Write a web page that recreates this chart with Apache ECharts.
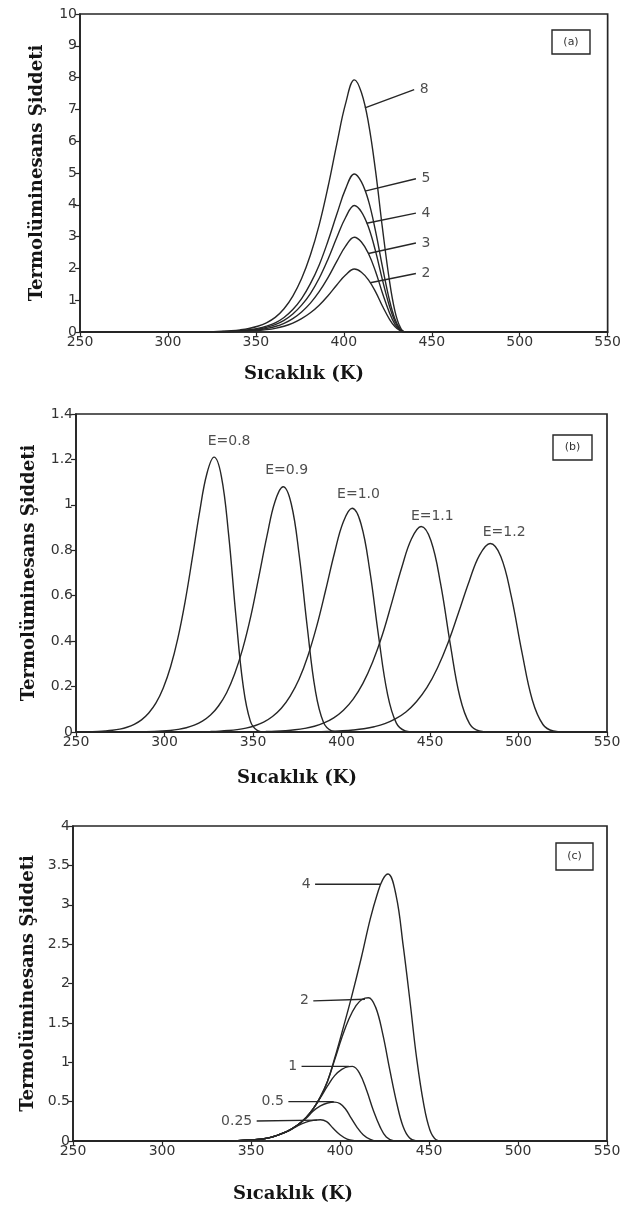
<!DOCTYPE html>
<html>
<head>
<meta charset="utf-8">
<script src="https://cdn.jsdelivr.net/npm/echarts@6/dist/echarts.min.js"></script>
<style>
  html, body { margin: 0; padding: 0; background: #fff; }
  #chart { width: 624px; height: 1208px; }
</style>
</head>
<body>
<div id="chart"></div>
<script>
// ---------- Panel (a): glow curves for several initial trap populations ----------
const tempA = [250, 316, 321, 326, 331, 336, 341, 346, 351, 356, 361, 366, 371, 376, 381, 386, 391, 396, 401, 406, 410, 414, 418, 422, 426, 429, 432, 435, 550];
const curveA8 = [0, 0.005, 0.008, 0.013, 0.024, 0.04, 0.067, 0.11, 0.18, 0.29, 0.46, 0.73, 1.13, 1.68, 2.42, 3.37, 4.56, 5.91, 7.18, 7.93, 7.53, 6.58, 5.08, 3.25, 1.59, 0.67, 0.16, 0, 0];
const curveA5 = [0, 0.003, 0.005, 0.008, 0.015, 0.025, 0.042, 0.07, 0.114, 0.184, 0.288, 0.457, 0.706, 1.05, 1.52, 2.11, 2.86, 3.70, 4.50, 4.97, 4.72, 4.13, 3.18, 2.04, 0.99, 0.42, 0.10, 0, 0];
const curveA4 = [0, 0.002, 0.004, 0.007, 0.012, 0.02, 0.034, 0.056, 0.092, 0.147, 0.231, 0.366, 0.565, 0.844, 1.21, 1.69, 2.29, 2.97, 3.60, 3.98, 3.78, 3.30, 2.55, 1.63, 0.80, 0.34, 0.08, 0, 0];
const curveA3 = [0, 0.002, 0.003, 0.005, 0.009, 0.015, 0.025, 0.042, 0.069, 0.11, 0.173, 0.274, 0.423, 0.632, 0.909, 1.27, 1.71, 2.22, 2.70, 2.98, 2.83, 2.47, 1.91, 1.22, 0.60, 0.25, 0.06, 0, 0];
const curveA2 = [0, 0.001, 0.002, 0.003, 0.006, 0.01, 0.017, 0.028, 0.046, 0.073, 0.115, 0.182, 0.281, 0.42, 0.604, 0.842, 1.14, 1.48, 1.79, 1.98, 1.88, 1.64, 1.27, 0.81, 0.40, 0.17, 0.04, 0, 0];
const labelsA = ['8', '5', '4', '3', '2'];
// leader lines: [point on curve, end near the number]
const leadersA = [
  [[412, 7.05], [440, 7.62]],
  [[412, 4.43], [441, 4.82]],
  [[413, 3.42], [441, 3.74]],
  [[414, 2.47], [441, 2.80]],
  [[415, 1.55], [441, 1.84]]
];

// ---------- Panel (b): glow curves for several activation energies ----------
const tempB08 = [250, 254.2, 258.3, 262.4, 266.5, 270.6, 274.7, 278.8, 282.9, 287.0, 291.1, 295.2, 299.3, 303.4, 307.5, 311.6, 315.7, 319.8, 323.9, 328, 332.1, 336.2, 340.3, 344.4, 348.5, 352.6, 356.7, 550];
const curveB08 = [0.0005, 0.0008, 0.0016, 0.0027, 0.0046, 0.0077, 0.0128, 0.0209, 0.0338, 0.0535, 0.0836, 0.128, 0.194, 0.286, 0.411, 0.572, 0.765, 0.967, 1.136, 1.21, 1.127, 0.871, 0.514, 0.206, 0.048, 0.006, 0, 0];
const tempB09 = [250, 280.4, 284.9, 289.5, 294.0, 298.6, 303.2, 307.7, 312.3, 316.8, 321.4, 326.0, 330.5, 335.1, 339.6, 344.2, 348.8, 353.3, 357.9, 362.4, 367, 371.6, 376.1, 380.7, 385.2, 389.8, 394.4, 398.9, 550];
const curveB09 = [0, 0.0004, 0.0008, 0.0014, 0.0024, 0.0041, 0.0069, 0.0114, 0.0187, 0.0301, 0.0477, 0.0746, 0.1146, 0.173, 0.255, 0.367, 0.511, 0.683, 0.863, 1.014, 1.08, 1.005, 0.778, 0.459, 0.184, 0.043, 0.0054, 0, 0];
const tempB10 = [250, 311, 316, 321, 326, 331, 336, 341, 346, 351, 356, 361, 366, 371, 376, 381, 386, 391, 396, 401, 406, 411, 416, 421, 426, 431, 436, 441, 550];
const curveB10 = [0, 0.0004, 0.0007, 0.0013, 0.0022, 0.0037, 0.0063, 0.0104, 0.0170, 0.0275, 0.0435, 0.0681, 0.1045, 0.158, 0.232, 0.335, 0.466, 0.623, 0.787, 0.925, 0.985, 0.917, 0.709, 0.419, 0.167, 0.039, 0.005, 0, 0];
const tempB11 = [250, 340.8, 346.3, 351.8, 357.2, 362.7, 368.2, 373.7, 379.2, 384.7, 390.1, 395.6, 401.1, 406.6, 412.1, 417.6, 423.1, 428.5, 434.0, 439.5, 445, 450.5, 456.0, 461.5, 466.9, 472.4, 477.9, 483.4, 550];
const curveB11 = [0, 0.0004, 0.0006, 0.0012, 0.0020, 0.0034, 0.0058, 0.0096, 0.0157, 0.0252, 0.0400, 0.0625, 0.0960, 0.145, 0.214, 0.308, 0.428, 0.572, 0.723, 0.850, 0.905, 0.843, 0.652, 0.385, 0.154, 0.036, 0.0045, 0, 0];
const tempB12 = [250, 370.9, 376.9, 382.8, 388.8, 394.7, 400.7, 406.6, 412.6, 418.5, 424.5, 430.4, 436.4, 442.3, 448.3, 454.2, 460.2, 466.1, 472.1, 478.0, 484, 490.0, 495.9, 501.9, 507.8, 513.8, 519.7, 525.7, 550];
const curveB12 = [0, 0.0003, 0.0006, 0.0011, 0.0018, 0.0032, 0.0053, 0.0088, 0.0144, 0.0232, 0.0367, 0.0574, 0.0881, 0.133, 0.196, 0.282, 0.393, 0.525, 0.663, 0.779, 0.83, 0.773, 0.598, 0.353, 0.141, 0.033, 0.0042, 0, 0];
const labelsB = ['E=0.8', 'E=0.9', 'E=1.0', 'E=1.1', 'E=1.2'];
const labelPosB = [[336.5, 1.28], [369, 1.152], [409.6, 1.046], [451.3, 0.951], [491.9, 0.88]];

// ---------- Panel (c): glow curves for several heating rates ----------
const tempC4 = [250, 330, 340, 350, 360, 370, 376, 381, 385, 389, 393, 397, 401, 406.5, 412, 417, 421, 424, 427, 431.5, 435.5, 439.5, 443, 447, 450.5, 454, 457, 550];
const curveC4 = [0, 0, 0.003, 0.012, 0.04, 0.12, 0.2, 0.3, 0.41, 0.56, 0.76, 1.05, 1.37, 1.83, 2.33, 2.82, 3.14, 3.32, 3.39, 3.12, 2.48, 1.74, 1.06, 0.47, 0.14, 0.015, 0, 0];
const tempC2 = [250, 330, 340, 350, 360, 370, 376, 381, 385, 389, 393, 397, 401, 405, 409, 412.5, 416, 420, 424, 428, 432, 435.5, 439, 443, 550];
const curveC2 = [0, 0, 0.003, 0.012, 0.04, 0.12, 0.2, 0.3, 0.41, 0.56, 0.76, 1.03, 1.31, 1.55, 1.72, 1.80, 1.82, 1.70, 1.36, 0.9, 0.47, 0.18, 0.04, 0, 0];
const tempC1 = [250, 330, 340, 350, 360, 370, 376, 381, 385, 389, 393, 397, 401, 405, 407, 411, 415, 418.7, 422.5, 426, 430, 433, 550];
const curveC1 = [0, 0, 0.003, 0.012, 0.04, 0.12, 0.2, 0.3, 0.41, 0.55, 0.70, 0.83, 0.91, 0.945, 0.947, 0.86, 0.64, 0.39, 0.18, 0.05, 0.005, 0, 0];
const tempC05 = [250, 330, 340, 350, 360, 370, 376, 381, 385, 389, 393, 397, 400, 403, 406, 409.4, 413, 417, 421, 550];
const curveC05 = [0, 0, 0.003, 0.012, 0.04, 0.12, 0.2, 0.29, 0.38, 0.445, 0.482, 0.494, 0.475, 0.41, 0.30, 0.18, 0.08, 0.02, 0, 0];
const tempC025 = [250, 330, 340, 350, 360, 370, 376, 381, 385, 389, 392.5, 396, 400, 404, 408, 412, 550];
const curveC025 = [0, 0, 0.003, 0.012, 0.04, 0.115, 0.19, 0.24, 0.262, 0.27, 0.245, 0.165, 0.08, 0.025, 0.005, 0, 0];
const labelsC = ['4', '2', '1', '0.5', '0.25'];
// leader lines: [end near the number, point on curve]
const leadersC = [
  [[386, 3.26], [422.5, 3.26]],
  [[385, 1.78], [414, 1.80]],
  [[378.4, 0.947], [405, 0.947]],
  [[371, 0.50], [396.5, 0.50]],
  [[353.2, 0.254], [387, 0.265]]
];

// ---------- shared axis settings ----------
const xTicks = [250, 550, 50];
const yRanges = [[0, 10, 1], [0, 1.4, 0.2], [0, 4, 0.5]];
const panelTags = ['(a)', '(b)', '(c)'];
const xTitle = 'Sıcaklık (K)';
const yTitle = 'Termolüminesans Şiddeti';

const INK = '#262626';
const LINE_W = 1.4;
const AXIS_W = 1.7;
const tickFont = { fontFamily: 'DejaVu Sans', fontSize: 14, color: '#333' };

const grids = [
  { left: 80, top: 14, width: 532, height: 318 },
  { left: 76, top: 414, width: 531, height: 318 },
  { left: 73, top: 826, width: 534, height: 315 }
];
const yNameGaps = [34, 38, 35];

function zip(xs, ys) { return xs.map((x, i) => [x, ys[i]]); }

function curve(gi, xs, ys) {
  return {
    type: 'line', xAxisIndex: gi, yAxisIndex: gi,
    data: zip(xs, ys), smooth: 0.4, showSymbol: false, symbol: 'none',
    lineStyle: { color: INK, width: LINE_W }, silent: true, z: 3
  };
}
function leader(gi, pts) {
  return {
    type: 'line', xAxisIndex: gi, yAxisIndex: gi, data: pts,
    showSymbol: false, symbol: 'none', lineStyle: { color: INK, width: 1.4 }, silent: true, z: 3
  };
}
function tags(gi, pts, names, position, distance) {
  return {
    type: 'scatter', xAxisIndex: gi, yAxisIndex: gi, symbolSize: 1,
    itemStyle: { color: 'transparent' }, silent: true, z: 4,
    data: pts.map((p, i) => ({ value: p, name: names[i] })),
    label: {
      show: true, position: position, distance: distance, formatter: '{b}',
      fontFamily: 'DejaVu Sans', fontSize: 14, color: '#222'
    }
  };
}

const series = [];
// panel (a)
[curveA8, curveA5, curveA4, curveA3, curveA2].forEach(c => series.push(curve(0, tempA, c)));
leadersA.forEach(l => series.push(leader(0, l)));
series.push(tags(0, leadersA.map(l => l[1]), labelsA, 'right', 5));
// panel (b)
series.push(curve(1, tempB08, curveB08));
series.push(curve(1, tempB09, curveB09));
series.push(curve(1, tempB10, curveB10));
series.push(curve(1, tempB11, curveB11));
series.push(curve(1, tempB12, curveB12));
series.push(tags(1, labelPosB, labelsB, 'inside', 0));
// panel (c)
series.push(curve(2, tempC4, curveC4));
series.push(curve(2, tempC2, curveC2));
series.push(curve(2, tempC1, curveC1));
series.push(curve(2, tempC05, curveC05));
series.push(curve(2, tempC025, curveC025));
leadersC.forEach(l => series.push(leader(2, l)));
series.push(tags(2, leadersC.map(l => l[0]), labelsC, 'left', 4));

const xAxes = grids.map((g, i) => ({
  type: 'value', gridIndex: i, min: xTicks[0], max: xTicks[1], interval: xTicks[2],
  axisLine: { show: true, lineStyle: { color: INK, width: AXIS_W } },
  axisTick: { show: true, length: 4, lineStyle: { color: INK, width: 1.2 } },
  axisLabel: Object.assign({ margin: 3 }, tickFont),
  splitLine: { show: false }
}));
const yAxes = grids.map((g, i) => ({
  type: 'value', gridIndex: i, min: yRanges[i][0], max: yRanges[i][1], interval: yRanges[i][2],
  axisLine: { show: true, lineStyle: { color: INK, width: AXIS_W } },
  axisTick: { show: true, length: 5, lineStyle: { color: INK, width: 1.2 } },
  axisLabel: Object.assign({ margin: 3 }, tickFont),
  splitLine: { show: false },
  name: yTitle, nameLocation: 'middle', nameRotate: 90, nameGap: yNameGaps[i],
  nameTextStyle: { fontFamily: 'DejaVu Serif', fontWeight: 'bold', fontSize: 18, color: '#151515' }
}));

// x titles and panel tags (pixel placement)
const xTitlePos = [[304, 374], [297, 778], [293, 1194]];
const tagBoxes = [[552, 30, 38, 24], [553, 435, 39, 25], [556, 843, 37, 27]];
const graphics = [];
xTitlePos.forEach(p => graphics.push({
  type: 'text', x: p[0], y: p[1], silent: true,
  style: { text: xTitle, fill: '#151515', font: 'bold 18px "DejaVu Serif"', align: 'center', verticalAlign: 'middle' }
}));
tagBoxes.forEach((b, i) => {
  graphics.push({
    type: 'rect', shape: { x: b[0], y: b[1], width: b[2], height: b[3] }, silent: true,
    style: { fill: 'none', stroke: INK, lineWidth: 1.4 }
  });
  graphics.push({
    type: 'text', x: b[0] + b[2] / 2, y: b[1] + b[3] / 2, silent: true,
    style: { text: panelTags[i], fill: '#333', font: '11px "DejaVu Sans"', align: 'center', verticalAlign: 'middle' }
  });
});

const chart = echarts.init(document.getElementById('chart'), null, { renderer: 'canvas' });
chart.setOption({
  backgroundColor: '#ffffff',
  animation: false,
  grid: grids.map(g => Object.assign({ show: true, borderColor: INK, borderWidth: AXIS_W, backgroundColor: 'transparent' }, g)),
  xAxis: xAxes,
  yAxis: yAxes,
  series: series,
  graphic: graphics
});
</script>
</body>
</html>
